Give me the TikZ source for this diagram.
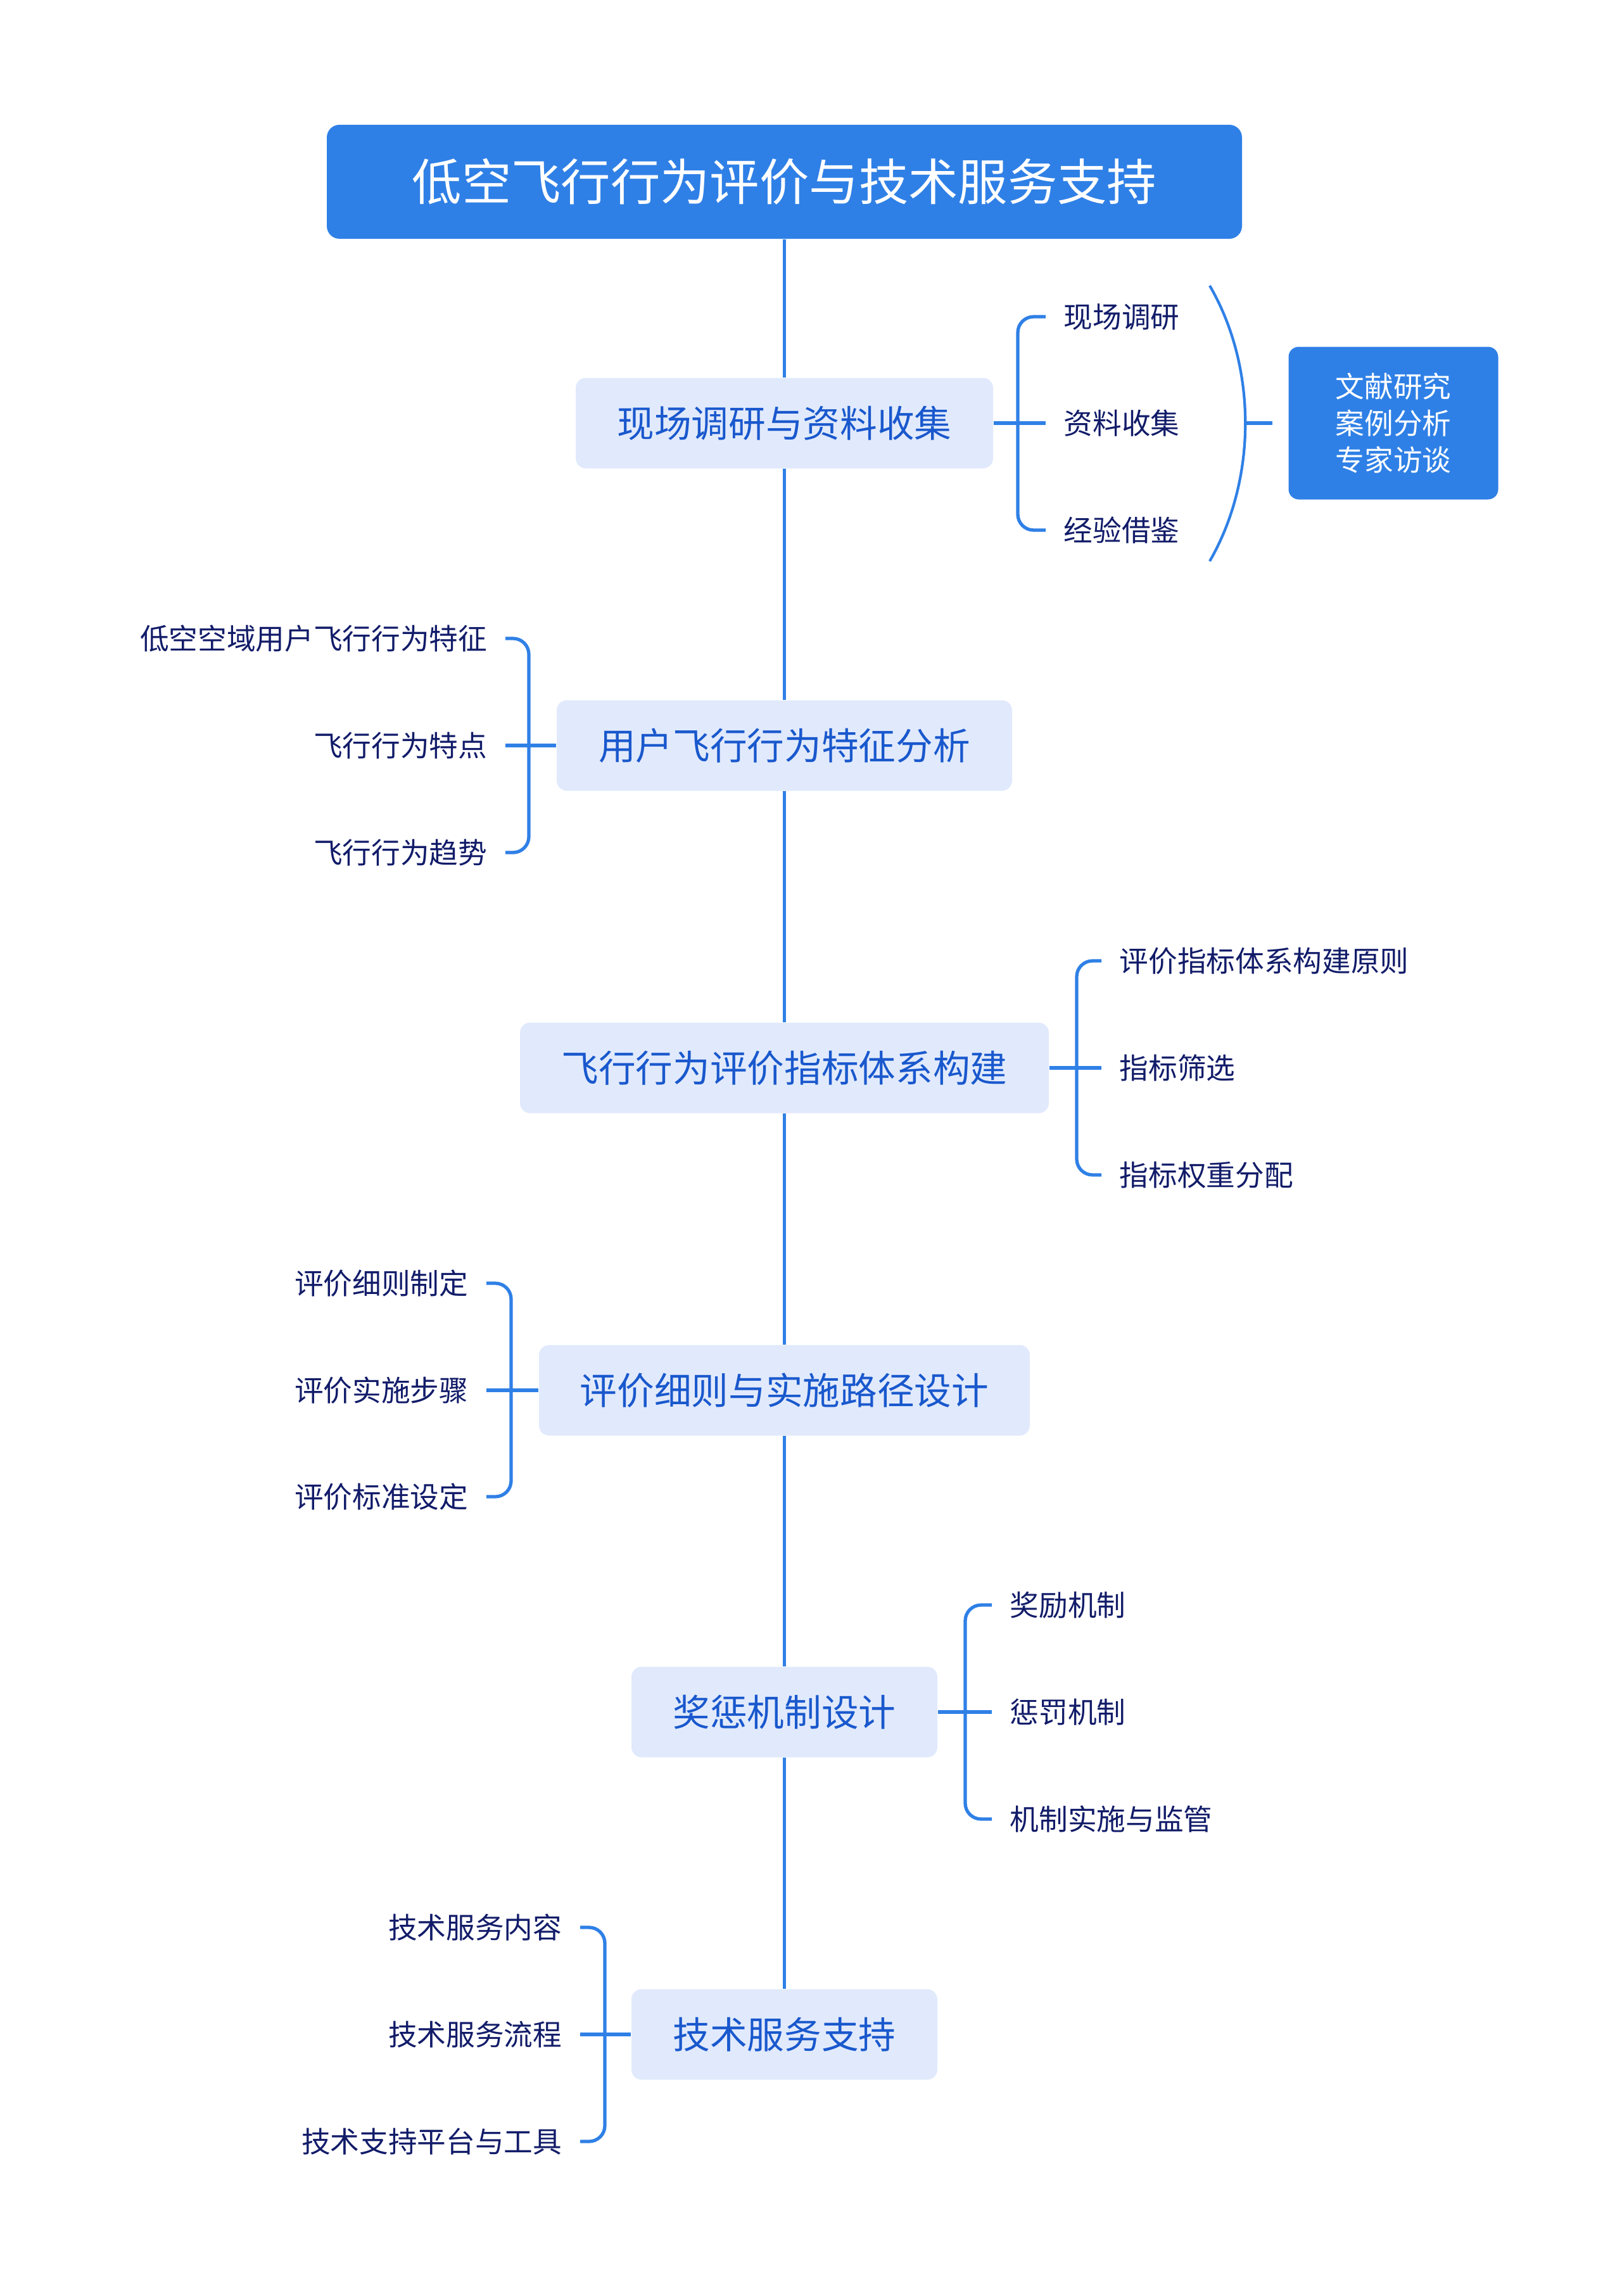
\documentclass[tikz,border=0pt]{standalone}
\usepackage{fontspec}
\newfontfamily\cjk{Noto Sans CJK SC}
\usetikzlibrary{positioning,calc}
\definecolor{mainC}{RGB}{47,128,230}
\definecolor{paleC}{RGB}{225,234,252}
\definecolor{midC}{RGB}{25,88,205}
\definecolor{leafC}{RGB}{18,28,105}
\tikzset{
  conn/.style={mainC,line width=1.5pt},
  topic/.style={fill=paleC,rounded corners=0.16cm,minimum height=1.43cm,
                text=midC,font=\cjk\fontsize{16.7}{20}\selectfont},
  leaf/.style={inner xsep=0.28cm,inner ysep=0pt,text=leafC,
               font=\cjk\fontsize{13}{16}\selectfont},
}

\begin{document}
\begin{tikzpicture}
  \useasboundingbox (0,0) rectangle (25.6,-36.25);

  % Root
  \node[fill=mainC,rounded corners=0.2cm,minimum width=14.45cm,minimum height=1.8cm,
        text=white,font=\cjk\fontsize{22.3}{26}\selectfont] (root) at (12.385,-2.87)
        {低空飞行行为评价与技术服务支持};

  % Topics on the spine
  \node[topic,minimum width=6.59cm] (t1) at (12.385,-6.68) {现场调研与资料收集};
  \node[topic,minimum width=7.19cm] (t2) at (12.385,-11.77) {用户飞行行为特征分析};
  \node[topic,minimum width=8.35cm] (t3) at (12.385,-16.86) {飞行行为评价指标体系构建};
  \node[topic,minimum width=7.75cm] (t4) at (12.385,-21.95) {评价细则与实施路径设计};
  \node[topic,minimum width=4.83cm] (t5) at (12.385,-27.03) {奖惩机制设计};
  \node[topic,minimum width=4.83cm] (t6) at (12.385,-32.12) {技术服务支持};

  % Spine
  \foreach \a/\b in {root/t1,t1/t2,t2/t3,t3/t4,t4/t5,t5/t6}
    \draw[conn] (\a) -- (\b);

  % Branch 1 (right)
  \node[leaf,anchor=west] (l1a) at (16.51,-5.00) {现场调研};
  \node[leaf,anchor=west] (l1b) at (16.51,-6.68) {资料收集};
  \node[leaf,anchor=west] (l1c) at (16.51,-8.37) {经验借鉴};
  \coordinate (j1) at (16.07,-6.68);
  \draw[conn] (t1.east) -- (l1b.west);
  \draw[conn,rounded corners=0.25cm] (l1a.west) -| (j1) |- (l1c.west);

  % Summary of branch 1
  \coordinate (a1) at (19.10,-4.51);
  \coordinate (a2) at (19.10,-8.86);
  \coordinate (am) at (19.66,-6.68);
  \draw[conn,line width=1.2pt] (a1) .. controls (19.85,-5.80) and (19.85,-7.56) .. (a2);
  \node[fill=mainC,rounded corners=0.16cm,minimum width=3.31cm,minimum height=2.41cm,
        text=white,align=center,font=\cjk\fontsize{13}{16.5}\selectfont] (sum) at (22.00,-6.68)
        {文献研究\\案例分析\\专家访谈};
  \draw[conn,shorten >=0.25cm] (am) -- (sum.west);

  % Branch 2 (left)
  \node[leaf,anchor=east] (l2a) at (7.98,-10.08) {低空空域用户飞行行为特征};
  \node[leaf,anchor=east] (l2b) at (7.98,-11.77) {飞行行为特点};
  \node[leaf,anchor=east] (l2c) at (7.98,-13.46) {飞行行为趋势};
  \coordinate (j2) at (8.35,-11.77);
  \draw[conn] (t2.west) -- (l2b.east);
  \draw[conn,rounded corners=0.25cm] (l2a.east) -| (j2) |- (l2c.east);

  % Branch 3 (right)
  \node[leaf,anchor=west] (l3a) at (17.39,-15.17) {评价指标体系构建原则};
  \node[leaf,anchor=west] (l3b) at (17.39,-16.86) {指标筛选};
  \node[leaf,anchor=west] (l3c) at (17.39,-18.55) {指标权重分配};
  \coordinate (j3) at (17.00,-16.86);
  \draw[conn] (t3.east) -- (l3b.west);
  \draw[conn,rounded corners=0.25cm] (l3a.west) -| (j3) |- (l3c.west);

  % Branch 4 (left)
  \node[leaf,anchor=east] (l4a) at (7.68,-20.26) {评价细则制定};
  \node[leaf,anchor=east] (l4b) at (7.68,-21.95) {评价实施步骤};
  \node[leaf,anchor=east] (l4c) at (7.68,-23.63) {评价标准设定};
  \coordinate (j4) at (8.07,-21.95);
  \draw[conn] (t4.west) -- (l4b.east);
  \draw[conn,rounded corners=0.25cm] (l4a.east) -| (j4) |- (l4c.east);

  % Branch 5 (right)
  \node[leaf,anchor=west] (l5a) at (15.66,-25.34) {奖励机制};
  \node[leaf,anchor=west] (l5b) at (15.66,-27.03) {惩罚机制};
  \node[leaf,anchor=west] (l5c) at (15.66,-28.72) {机制实施与监管};
  \coordinate (j5) at (15.24,-27.03);
  \draw[conn] (t5.east) -- (l5b.west);
  \draw[conn,rounded corners=0.25cm] (l5a.west) -| (j5) |- (l5c.west);

  % Branch 6 (left)
  \node[leaf,anchor=east] (l6a) at (9.16,-30.43) {技术服务内容};
  \node[leaf,anchor=east] (l6b) at (9.16,-32.12) {技术服务流程};
  \node[leaf,anchor=east] (l6c) at (9.16,-33.81) {技术支持平台与工具};
  \coordinate (j6) at (9.55,-32.12);
  \draw[conn] (t6.west) -- (l6b.east);
  \draw[conn,rounded corners=0.25cm] (l6a.east) -| (j6) |- (l6c.east);
\end{tikzpicture}
\end{document}
